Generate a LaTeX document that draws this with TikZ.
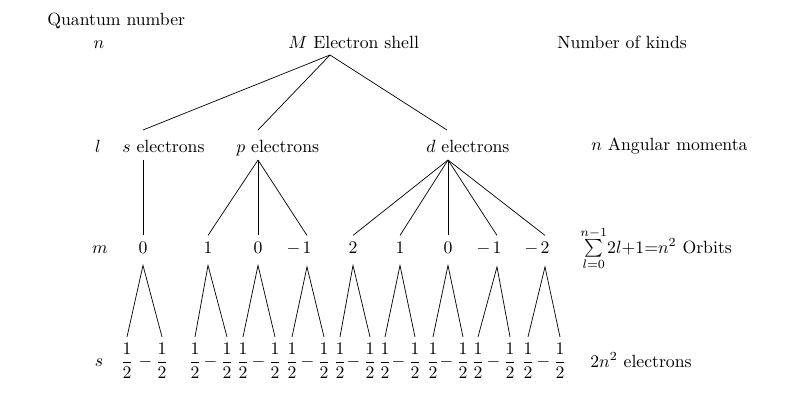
\documentclass[tikz,border=0pt]{standalone}
\usepackage{amsmath}
\begin{document}
\begin{tikzpicture}[x=0.565pt,y=-0.565pt,
  lbl/.style={inner sep=0pt,anchor=base west},
  rowlbl/.style={inner sep=0pt,anchor=base},
  mnum/.style={anchor=base,inner sep=3.3pt},
  half/.style={anchor=base,inner sep=3.3pt},
  branch/.style={draw=black,line width=0.4pt}]
\useasboundingbox (0,0) rectangle (805,393);

% headings and right-hand column
\node[lbl] (qn) at (47,25) {Quantum number};
\node[lbl] (shell) at (288,48) {$M$ Electron shell};
\node[lbl] (kinds) at (557,48) {Number of kinds};
\node[lbl] (ang) at (591,150) {$n$ Angular momenta};
\node[lbl] (orb) at (580,253) {$\sum\limits_{l=0}^{n-1}\!2l{+}1{=}n^2$ Orbits};
\node[lbl] (elec) at (590,367) {$2n^2$ electrons};

% row labels
\node[rowlbl] (rn) at (99,48) {$n$};
\node[rowlbl] (rl) at (98,152) {$l$};
\node[rowlbl] (rm) at (100,253) {$m$};
\node[rowlbl] (rs) at (99,366) {$s$};

% l row
\node[lbl] (se) at (122,152) {$s$ electrons};
\node[lbl] (pe) at (236,152) {$p$ electrons};
\node[lbl] (de) at (426,152) {$d$ electrons};

% tree points
\coordinate (top) at (330,55);
\coordinate (sUp) at (143,130);
\coordinate (pUp) at (258,130);
\coordinate (dUp) at (447,130);
\coordinate (sDn) at (143,160);
\coordinate (pDn) at (258,160);
\coordinate (dDn) at (448,160);

% m row
\node[mnum] (mA) at (143,253) {$0$};
\node[mnum] (mB) at (208,253) {$1$};
\node[mnum] (mC) at (258,253) {$0$};
\node[mnum] (mD) at (307,253) {$\llap{$-$\hspace{1.2pt}}1$};
\node[mnum] (mE) at (353,253) {$2$};
\node[mnum] (mF) at (400,253) {$1$};
\node[mnum] (mG) at (448,253) {$0$};
\node[mnum] (mH) at (497,253) {$\llap{$-$\hspace{1.2pt}}1$};
\node[mnum] (mI) at (545,253) {$\llap{$-$\hspace{1.2pt}}2$};

% s row (spin halves)
\foreach \n/\a/\b in {A/127/162, B/195/227, C/243/275, D/292/324, E/340/370,
                      F/385/415, G/433/463, H/478/510, I/528/560}{
  \node[half] (h\n1) at (\a,366.5) {$\dfrac{1}{2}$};
  \node[half] (h\n2) at (\b,366.5) {$\llap{$-$\,}\dfrac{1}{2}$};
  \draw[branch] (h\n1.north) -- ([yshift=-3.5pt]m\n.south) -- (h\n2.north);
}

% connectors
\draw[branch] (top) -- (sUp);
\draw[branch] (top) -- (pUp);
\draw[branch] (top) -- (dUp);
\draw[branch] (sDn) -- (mA.north);
\draw[branch] (pDn) -- (mB.north);
\draw[branch] (pDn) -- (mC.north);
\draw[branch] (pDn) -- (mD.north);
\draw[branch] (dDn) -- (mE.north);
\draw[branch] (dDn) -- (mF.north);
\draw[branch] (dDn) -- (mG.north);
\draw[branch] (dDn) -- (mH.north);
\draw[branch] (dDn) -- (mI.north);
\end{tikzpicture}
\end{document}
